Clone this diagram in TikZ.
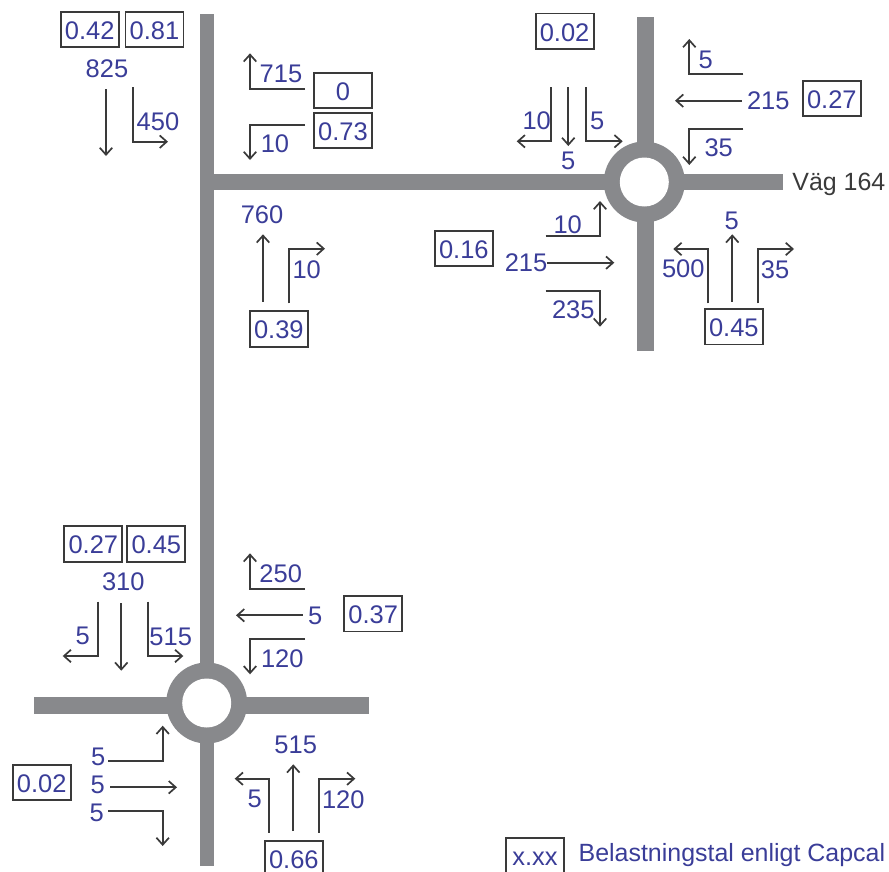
\documentclass[tikz,border=0pt]{standalone}
\usepackage{fontspec}
\setmainfont{Liberation Sans}
\usetikzlibrary{arrows.meta}
\definecolor{roadgray}{HTML}{88898C}
\definecolor{talblue}{HTML}{3A3D98}
\definecolor{inkgray}{HTML}{3A3A3A}
\tikzset{
  road/.style={fill=roadgray},
  lbl/.style={inner sep=0pt, text=talblue, font=\fontsize{14.5}{14.5}\selectfont},
  talbox/.style={lbl, draw=inkgray, line width=0.38mm, fill=white, minimum width=11.6mm, minimum height=7.1mm, text height=11.2pt, text depth=0pt},
  pil/.style={->, draw=inkgray, line width=0.34mm},
}
\begin{document}
\begin{tikzpicture}[>={Straight Barb[length=1.4mm,width=2.5mm]}, x=0.02cm, y=-0.02cm]
\useasboundingbox (0,0) rectangle (889,872);
% Vagar
\fill[road] (199.5,13.5) rectangle (214,866);
\fill[road] (214,174) rectangle (783,189.5);
\fill[road] (637.3,16.7) rectangle (654,351);
\fill[road] (34,697.3) rectangle (369,714.3);
\fill[road] (644.3,182) circle[radius=40.5];
\fill[white] (644.3,182) circle[radius=24.5];
\fill[road] (206.7,703) circle[radius=40.5];
\fill[white] (206.7,703) circle[radius=24.5];
\node[inner sep=0pt, text=inkgray, font=\fontsize{14.2}{14.2}\selectfont, anchor=base west] (vag) at (792,190) {Väg 164};
% Norra korsningen
\node[talbox] (nvA) at (89.7,29.5) {0.42};
\node[talbox] (nvB) at (154.5,29.5) {0.81};
\node[lbl] (nv825) at (107,69) {825};
\draw[pil] (106,89) -- (106,156);
\draw[pil] (132.7,87) -- (132.7,141.7) -- (168,141.7);
\node[lbl] (nv450) at (158,122) {450};
\draw[pil] (305,89.3) -- (250,89.3) -- (250,53.3);
\node[lbl] (no715) at (281,74) {715};
\node[talbox] (noA) at (343,90.3) {0};
\node[talbox] (noB) at (343,130.7) {0.73};
\draw[pil] (305,125) -- (250,125) -- (250,160);
\node[lbl] (no10) at (275,144) {10};
\node[lbl] (ns760) at (262,214.7) {760};
\draw[pil] (263,301.7) -- (263,234.3);
\draw[pil] (289,303.3) -- (289,248.7) -- (325,248.7);
\node[lbl] (ns10) at (306.7,269.8) {10};
\node[talbox] (nsA) at (278.8,329) {0.39};
% Cirkulationsplats vag 164
\node[talbox] (knA) at (564.6,31.2) {0.02};
\draw[pil] (551,87.3) -- (551,141.3) -- (516.7,141.3);
\node[lbl] (kn10) at (536.7,120.5) {10};
\draw[pil] (568.3,87.3) -- (568.3,146);
\node[lbl] (kn5a) at (568.3,161) {5};
\draw[pil] (586.3,87.3) -- (586.3,141.3) -- (622.7,141.3);
\node[lbl] (kn5b) at (597.3,120.5) {5};
\draw[pil] (743.3,74.3) -- (689.3,74.3) -- (689.3,39);
\node[lbl] (ko5) at (705.7,59.8) {5};
\draw[pil] (741.7,100.7) -- (675,100.7);
\node[lbl] (ko215) at (768.3,101.2) {215};
\node[talbox] (koA) at (831.8,98.5) {0.27};
\draw[pil] (743.3,129) -- (689.3,129) -- (689.3,165);
\node[lbl] (ko35) at (718.7,147.8) {35};
\draw[pil] (545.7,236.3) -- (600,236.3) -- (600,201);
\node[lbl] (kv10) at (567.7,224.5) {10};
\node[talbox] (kvA) at (463.8,248.3) {0.16};
\node[lbl] (kv215) at (526,263.2) {215};
\draw[pil] (547.3,262.7) -- (614.3,262.7);
\draw[pil] (545.7,291) -- (600,291) -- (600,326.7);
\node[lbl] (kv235) at (573.3,309.5) {235};
\draw[pil] (708.3,303.3) -- (708.3,249) -- (673.3,249);
\node[lbl] (ks500) at (683.3,269.2) {500};
\draw[pil] (732.3,301.7) -- (732.3,234.3);
\node[lbl] (ks5) at (731.7,220.8) {5};
\draw[pil] (758.3,303.3) -- (758.3,249) -- (794,249);
\node[lbl] (ks35) at (775,269.8) {35};
\node[talbox] (ksA) at (733.8,326.7) {0.45};
% Sodra cirkulationsplatsen
\node[talbox] (snA) at (93.3,543.8) {0.27};
\node[talbox] (snB) at (156.3,543.8) {0.45};
\node[lbl] (sn310) at (123.3,581.5) {310};
\draw[pil] (97.7,601.7) -- (97.7,656) -- (62.7,656);
\node[lbl] (sn5) at (82.7,635.8) {5};
\draw[pil] (121.3,603.3) -- (121.3,670.7);
\draw[pil] (147.7,601.7) -- (147.7,656) -- (183.3,656);
\node[lbl] (sn515) at (170.7,636.8) {515};
\draw[pil] (305,589) -- (250,589) -- (250,553.3);
\node[lbl] (so250) at (280.7,574.2) {250};
\draw[pil] (302.7,615.3) -- (236,615.3);
\node[lbl] (so5) at (315.3,615.8) {5};
\node[talbox] (soA) at (373.2,613.7) {0.37};
\draw[pil] (305,639.3) -- (250,639.3) -- (250,674.3);
\node[lbl] (so120) at (282.3,658.8) {120};
\draw[pil] (108.3,760.7) -- (162.7,760.7) -- (162.7,725.7);
\node[lbl] (sv5a) at (98.3,756.5) {5};
\draw[pil] (110,787.3) -- (177,787.3);
\node[lbl] (sv5b) at (97.7,784.5) {5};
\draw[pil] (108.3,811.3) -- (162.7,811.3) -- (162.7,846);
\node[lbl] (sv5c) at (96.7,812.5) {5};
\node[talbox] (svA) at (41.7,782.5) {0.02};
\node[lbl] (ss515) at (295.7,744.5) {515};
\draw[pil] (293.3,831) -- (293.3,764.3);
\draw[pil] (269.3,832.7) -- (269.3,778.7) -- (234.7,778.7);
\node[lbl] (ss5) at (254.7,798.5) {5};
\draw[pil] (319.3,832.7) -- (319.3,778.7) -- (355.3,778.7);
\node[lbl] (ss120) at (343.3,799.8) {120};
\node[talbox] (ssA) at (293.8,858.5) {0.66};
% Teckenforklaring
\node[talbox] (legA) at (535,855.8) {x.xx};
\node[lbl, font=\fontsize{14.2}{14.2}\selectfont, anchor=base west] (legB) at (578.3,861.5) {Belastningstal enligt Capcal};
\end{tikzpicture}
\end{document}
